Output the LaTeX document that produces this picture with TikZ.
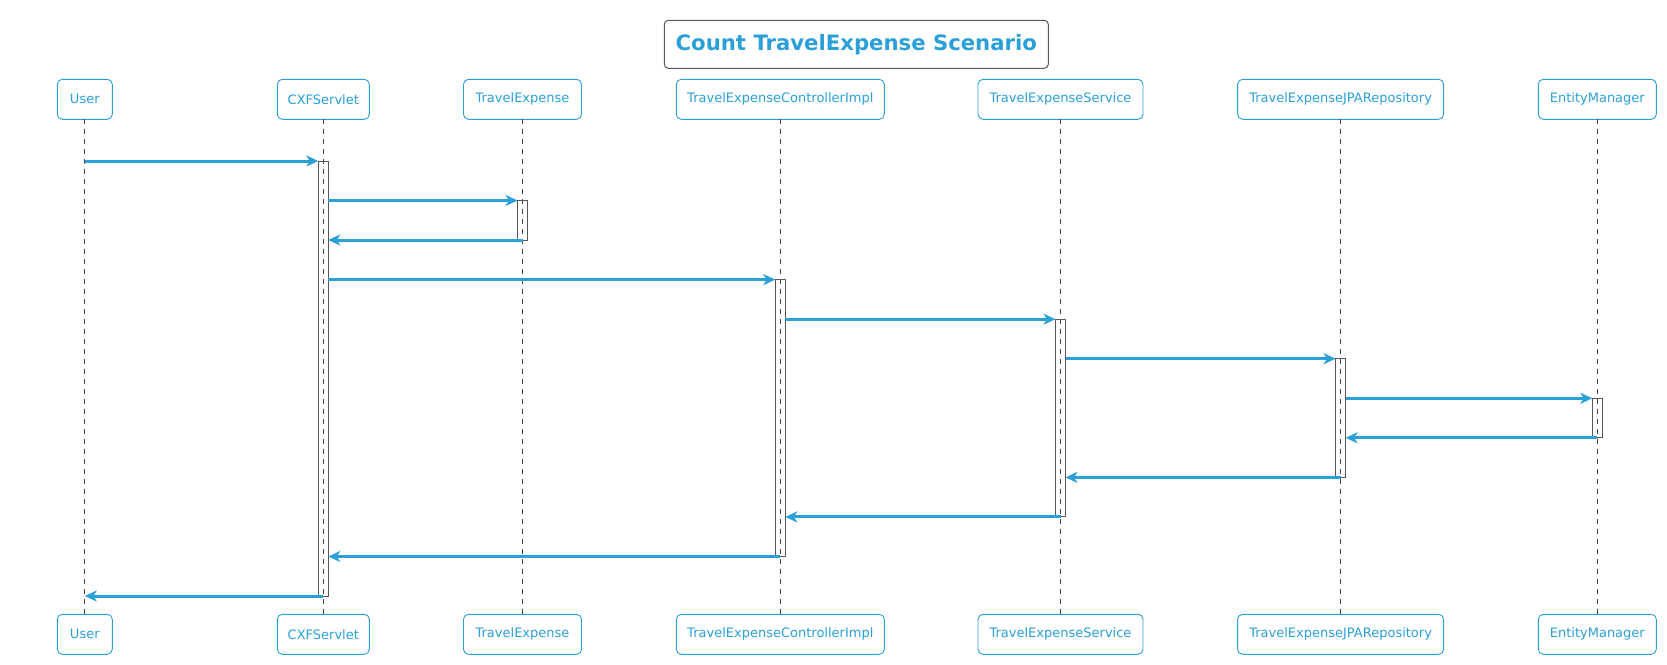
\documentclass[tikz,border=0pt]{standalone}
\usepackage{fontspec}
\setmainfont{DejaVu Sans}
\usetikzlibrary{arrows.meta}
\definecolor{pblue}{HTML}{2A9FD8}
\definecolor{pline}{HTML}{444444}
\tikzset{
  part/.style={draw=pblue, line width=0.9pt, rounded corners=5pt, minimum height=40pt, inner sep=0pt, outer sep=0pt, text=pblue, font=\fontsize{13}{15}\selectfont},
  life/.style={draw=pline, line width=0.9pt, dash pattern=on 5pt off 5pt},
  bar/.style={draw=pline!90, line width=1pt, minimum width=10pt, inner sep=0pt, outer sep=0pt, anchor=north},
  msg/.style={draw=pblue, line width=3pt, -{Stealth[length=12pt, width=11pt, inset=3.5pt]}},
}
\begin{document}
\begin{tikzpicture}[x=1pt, y=-1pt]
\useasboundingbox (0,0) rectangle (1667,664);
\node[draw=pline!90, line width=1pt, rounded corners=4pt, minimum width=384pt, minimum height=48pt, inner sep=0pt, text=pblue, font=\bfseries\fontsize{21.2}{25}\selectfont] (title) at (856.3,44.3) {Count TravelExpense Scenario};
\foreach \n/\x/\w/\t in {user/84.8/55/User, cxf/323.3/92/CXFServlet, te/522.5/118/TravelExpense, ctl/780.3/208/TravelExpenseControllerImpl, svc/1060.5/165/TravelExpenseService, jpa/1340.6/206/TravelExpenseJPARepository, em/1597.3/118/EntityManager} {
  \node[part, minimum width=\w pt] (\n) at (\x,99.3) {\t};
  \node[part, minimum width=\w pt] (\n-b) at (\x,634.3) {\t};
  \draw[life] (\n.south) -- (\n-b.north);
}
% activation bars
\node[bar, minimum height=435pt] (a-cxf) at (323.3,161) {};
\node[bar, minimum height=39.5pt] (a-te) at (522.5,200.5) {};
\node[bar, minimum height=276.9pt] (a-ctl) at (780.3,279.6) {};
\node[bar, minimum height=197.7pt] (a-svc) at (1060.5,319.2) {};
\node[bar, minimum height=118.7pt] (a-jpa) at (1340.6,358.7) {};
\node[bar, minimum height=39.5pt] (a-em) at (1597.3,398.3) {};
% messages
\draw[msg] (user.south |- a-cxf.north) -- (a-cxf.north west);
\draw[msg] (a-cxf.east |- a-te.north) -- (a-te.north west);
\draw[msg] (a-te.south) -- (a-cxf.east |- a-te.south);
\draw[msg] (a-cxf.east |- a-ctl.north) -- (a-ctl.north west);
\draw[msg] (a-ctl.east |- a-svc.north) -- (a-svc.north west);
\draw[msg] (a-svc.east |- a-jpa.north) -- (a-jpa.north west);
\draw[msg] (a-jpa.east |- a-em.north) -- (a-em.north west);
\draw[msg] (a-em.south) -- (a-jpa.east |- a-em.south);
\draw[msg] (a-jpa.south) -- (a-svc.east |- a-jpa.south);
\draw[msg] (a-svc.south) -- (a-ctl.east |- a-svc.south);
\draw[msg] (a-ctl.south) -- (a-cxf.east |- a-ctl.south);
\draw[msg] (a-cxf.south) -- (user.south |- a-cxf.south);
\end{tikzpicture}
\end{document}
